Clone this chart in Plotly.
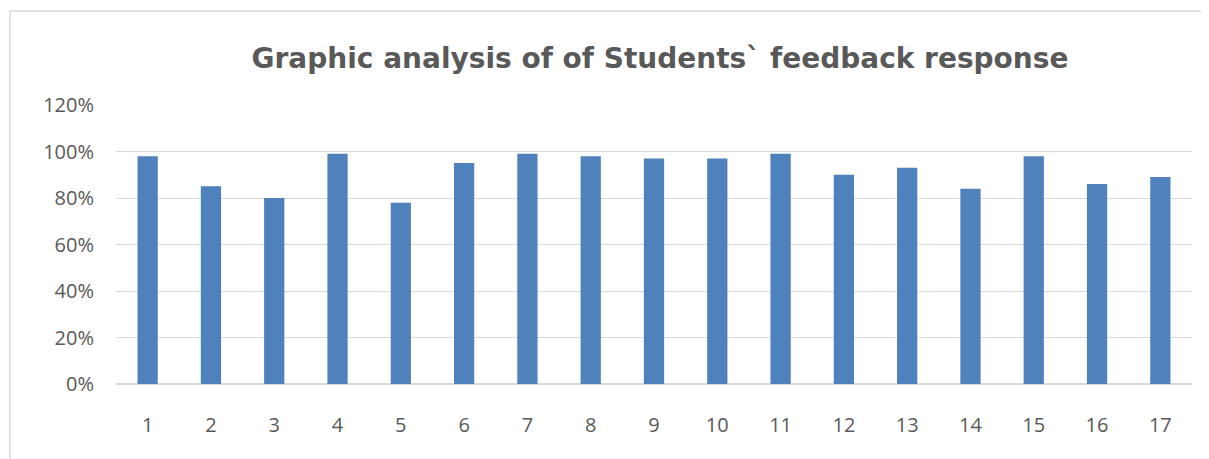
import plotly.graph_objects as go

categories = [str(i) for i in range(1, 18)]
values = [98, 85, 80, 99, 78, 95, 99, 98, 97, 97, 99, 90, 93, 84, 98, 86, 89]
y_ticks = [0, 20, 40, 60, 80, 100, 120]
y_tick_labels = [f"{v}%" for v in y_ticks]

# page body has an 8px margin, so the figure is laid out 8px smaller
W, H = 1201, 451
L, R, T, B = 108, 17, 97, 75

fig = go.Figure(go.Bar(
    x=categories, y=values,
    marker=dict(color="#4f81bd", line=dict(width=0)),
))

pw = W - L - R
ph = H - T - B
fig.update_layout(
    width=W, height=H,
    margin=dict(l=L, r=R, t=T, b=B),
    paper_bgcolor="white", plot_bgcolor="white",
    bargap=0.68,
    showlegend=False,
    font=dict(family="Open Sans, Liberation Sans, sans-serif", color="#595959", size=20),
    title=dict(
        text="<b>Graphic analysis of of Students` feedback response</b>",
        x=652 / W, xanchor="center", xref="container",
        y=1 - 50 / H, yanchor="middle", yref="container",
        font=dict(family="DejaVu Sans, sans-serif", size=28, color="#595959"),
    ),
    xaxis=dict(
        type="category", showgrid=False, zeroline=False, showline=False,
        ticks="", ticklabelstandoff=27,
        tickfont=dict(size=20, color="#595959"),
    ),
    yaxis=dict(
        range=[0, 120], tickvals=y_ticks, ticktext=y_tick_labels,
        showgrid=True, gridcolor="#d9d9d9", gridwidth=1.3,
        zeroline=True, zerolinecolor="#d9d9d9", zerolinewidth=1.5,
        showline=False, ticks="", ticklabelstandoff=21,
        tickfont=dict(size=20, color="#595959"),
    ),
    shapes=[dict(
        type="rect", xref="paper", yref="paper",
        x0=(2 - L) / pw, x1=(1198 - L) / pw,
        y0=-(B + 30) / ph, y1=(ph + T - 3) / ph,
        line=dict(color="#d9d9d9", width=1.5), fillcolor="rgba(0,0,0,0)", layer="below",
    )],
)

fig.write_html("out.html")
